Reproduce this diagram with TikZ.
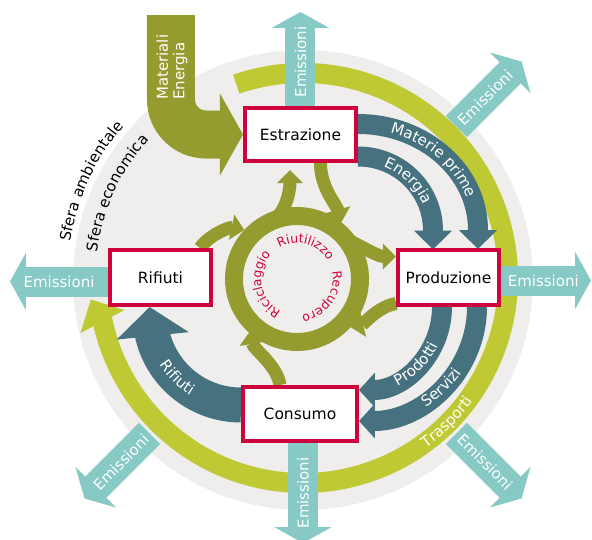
\documentclass[tikz,border=0pt]{standalone}
\usepackage{fontspec}
\setmainfont{DejaVu Sans}
\usetikzlibrary{arrows.meta,calc,decorations.text}
\definecolor{cDisc}{HTML}{EFEEED}
\definecolor{cLime}{HTML}{BFC933}
\definecolor{cTeal}{HTML}{86C9C5}
\definecolor{cOlive}{HTML}{959C2F}
\definecolor{cSlate}{HTML}{46727F}
\definecolor{cRed}{HTML}{D0043C}
\newcommand{\BoxFont}{\fontsize{15.5}{18}\selectfont}
\newcommand{\LabFont}{\fontsize{15}{16.5}\selectfont}
\newcommand{\RingFont}{\fontsize{12.5}{14}\selectfont}
% centre x, centre y, x radius, y radius, from, to, text
\newcommand{\ArcText}[7]{
	\path[decorate,decoration={text along path,text align=center,text={#7}}]
		([shift={(#1,#2)}]#5:#3 and #4) arc[start angle=#5,end angle=#6,x radius=#3,y radius=#4];
}
\pgfdeclarelayer{front}
\pgfsetlayers{main,front}
\tikzset{
	stage/.style={draw=cRed,line width=4pt,fill=white,minimum width=101pt,minimum height=55pt,inner sep=0pt,font=\BoxFont},
	emission/.style={draw=cTeal,line width=30pt,-{Triangle[width=57pt,length=16pt]}},
	emtext/.style={text=white,inner sep=0pt,font=\fontsize{15}{17}\selectfont},
	flow/.style={draw=cSlate,line width=20pt,-{Triangle[width=37pt,length=19pt]}},
	cyc/.style={draw=cOlive,line width=13pt,-{Triangle[width=25pt,length=13pt]}}
}
\begin{document}
\begin{tikzpicture}[x=1pt,y=1pt]
\useasboundingbox (-303,-259) rectangle (289,280);
%stages
\begin{pgfonlayer}{front}
	\node[stage,minimum width=111pt,minimum height=53pt] (estr) at (-2.5,145.5) {Estrazione};
	\node[stage] (prod) at (145.5,2.5) {Produzione};
	\node[stage] (rif) at (-142.5,2.5) {Rifiuti};
	\node[stage,minimum width=114pt,minimum height=54pt] (cons) at (-3,-134) {Consumo};
\end{pgfonlayer}
%spheres
\fill[cDisc] (0,0) circle (230);
\ArcText{0}{0}{236}{236}{200}{110}{|\LabFont|Sfera ambientale}
\ArcText{0}{0}{208}{208}{200}{110}{|\LabFont|Sfera economica}
%transport ring
\draw[cLime,line width=20pt,-{Triangle[width=48pt,length=25pt]}] ([shift={(0,2)}]109:205) arc[start angle=109,end angle=-167.5,radius=205] -- ++(-12,23);
\ArcText{0}{2}{210}{210}{-90}{0}{|\LabFont\color{white}|Trasporti}
%emissions
\path (estr.north) ++(0,94) coordinate (eN);
\path ([yshift=-3pt]prod.east) ++(90,0) coordinate (eE);
\path ([yshift=-4pt]rif.west) ++(-98,0) coordinate (eW);
\path ([xshift=3pt]cons.south) ++(0,-100) coordinate (eS);
\draw[emission] (estr.north) -- (eN) node[emtext,pos=.47,rotate=90] {Emissioni};
\draw[emission] ([yshift=-3pt]prod.east) -- (eE) node[emtext,pos=.47] {Emissioni};
\draw[emission] ([yshift=-4pt]rif.west) -- (eW) node[emtext,pos=.5] {Emissioni};
\draw[emission] ([xshift=3pt]cons.south) -- (eS) node[emtext,pos=.5,rotate=90] {Emissioni};
\foreach \a/\n in {45/ne,-45/se,-135/sw}{
	\coordinate (e\n a) at (\a:217);
	\coordinate (e\n b) at (\a:309);
	\draw[emission] (e\n a) -- (e\n b) node[emtext,pos=.44,sloped] {Emissioni};
}
%economic flows
\draw[flow] ([yshift=10.5pt]estr.east) arc[start angle=90,end angle=0,x radius=120,y radius=106] -- ++(0,-19);
\draw[flow] ([yshift=-22pt]estr.east) arc[start angle=90,end angle=0,x radius=75,y radius=74] -- ++(0,-19);
\draw[flow,-{Triangle[width=34pt,length=16pt]}] ([xshift=-6.5pt]prod.south) arc[start angle=0,end angle=-90,radius=83];
\draw[flow,-{Triangle[width=34pt,length=16pt]}] ([xshift=28.5pt]prod.south) arc[start angle=0,end angle=-90,x radius=118,y radius=114];
\draw[flow,line width=35pt,-{Triangle[width=71pt,length=29pt]}] ([yshift=9pt]cons.west) arc[start angle=-90,end angle=-166,radius=91] -- ++(-3,29);
\ArcText{55}{50}{115}{101}{90}{0}{|\LabFont\color{white}|Materie prime}
\ArcText{55}{49.5}{70}{69}{90}{0}{|\LabFont\color{white}|Energia}
\ArcText{56}{-27}{88}{88}{-90}{0}{|\LabFont\color{white}|Prodotti}
\ArcText{56}{-27}{123}{119}{-90}{0}{|\LabFont\color{white}|Servizi}
\ArcText{-62}{-34}{96}{96}{180}{270}{|\LabFont\color{white}|Rifiuti}
%inner cycle
\node[circle,draw=cOlive,line width=18pt,minimum size=126pt,inner sep=0pt,outer sep=0pt] (ring) at (-6,1) {};
\draw[cyc] (ring.115) .. controls +(16,8) and +(0,-20) .. ($(estr.south)+(-10.5,-7)$);
\draw[cyc] ([xshift=20pt]estr.south) .. controls +(0,-25) and +(-5,18) .. ($(ring.center)+(52:72)$);
\draw[cyc] (ring.40) .. controls +(20,-10) and +(-18,0) .. ([yshift=21pt]prod.west);
\draw[cyc] ([yshift=-26pt]prod.west) .. controls +(-18,-3) and +(13,3) .. ($(ring.center)+(-42:72)$);
\draw[cyc] ([xshift=-20pt]cons.north) .. controls +(-3,20) and +(3,-18) .. ($(ring.center)+(-132:70)$);
\draw[cyc] ([xshift=39.5pt]rif.north) .. controls +(10,14) and +(-14,3) .. ($(ring.center)+(137:72)$);
\ArcText{-6}{1}{36}{36}{150}{0}{|\RingFont\color{cRed}|Riutilizzo}
\ArcText{-6}{1}{36}{36}{40}{-110}{|\RingFont\color{cRed}|Recupero}
\ArcText{-6}{1}{36}{36}{265}{115}{|\RingFont\color{cRed}|Riciclaggio}
%input
\coordinate (src) at (-132,265);
\draw[cOlive,line width=48pt,rounded corners=35pt,-{Triangle[width=81pt,length=23pt]}] (src) |- (estr.west);
\node[text=white,font=\LabFont,align=left,rotate=90,anchor=west,inner sep=0pt] (mat) at (-131,180) {Materiali\\Energia};
\end{tikzpicture}
\end{document}
